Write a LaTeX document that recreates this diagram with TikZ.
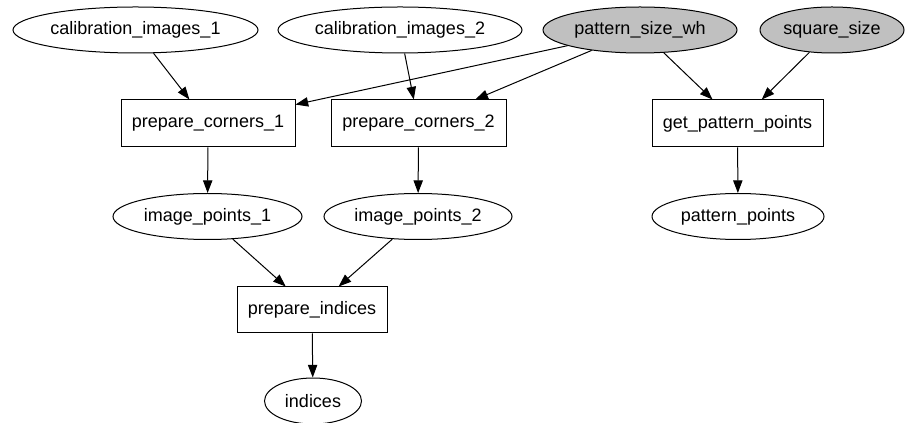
\documentclass[tikz,border=0pt]{standalone}
\usepackage{fontspec}
\setmainfont{Liberation Sans}
\usetikzlibrary{shapes.geometric,arrows.meta}
\definecolor{inputgray}{RGB}{192,192,192}

\begin{document}
\begin{tikzpicture}[x=0.75pt,y=-0.75pt]

		\tikzstyle{data}=[draw, ellipse, inner sep=0pt, minimum height=34.5pt, line width=0.75pt, font=\fontsize{13.5}{16}\selectfont]
		\tikzstyle{given data}=[data, fill=inputgray]
		\tikzstyle{task}=[draw, rectangle, inner sep=0pt, minimum height=35.25pt, line width=0.75pt, font=\fontsize{13.5}{16}\selectfont]
		\tikzstyle{flow}=[-{Triangle[length=9.5pt,width=7pt]}, line width=0.75pt]

		\useasboundingbox (0,0) rectangle (905,423);

		%inputs
		\node [data, minimum width=183.75pt] (calib1) at (135.5,30) {calibration\_images\_1};
		\node [data, minimum width=183pt] (calib2) at (400,30) {calibration\_images\_2};
		\node [given data, minimum width=145.5pt] (patsize) at (640,30) {pattern\_size\_wh};
		\node [given data, minimum width=108pt] (sqsize) at (832,30) {square\_size};

		%steps
		\node [task, minimum width=130.5pt] (corners1) at (208,123.5) {prepare\_corners\_1};
		\node [task, minimum width=131.25pt] (corners2) at (418.5,123.5) {prepare\_corners\_2};
		\node [task, minimum width=128.25pt] (getpat) at (737.5,123.5) {get\_pattern\_points};

		%results of the steps
		\node [data, minimum width=141.75pt] (imgpts1) at (207.5,216.5) {image\_points\_1};
		\node [data, minimum width=141pt] (imgpts2) at (418,216.5) {image\_points\_2};
		\node [data, minimum width=129pt] (patpts) at (738,216.5) {pattern\_points};

		%last step
		\node [task, minimum width=112.5pt, minimum height=34.5pt] (prepidx) at (312,310) {prepare\_indices};
		\node [data, minimum width=72.75pt] (indices) at (313,401) {indices};

		%edges
		\draw [flow] (calib1) -- (corners1);
		\draw [flow] (calib2) -- (corners2);
		\draw [flow] (patsize) -- (corners1);
		\draw [flow] (patsize) -- (corners2);
		\draw [flow] (patsize) -- (getpat);
		\draw [flow] (sqsize) -- (getpat);
		\draw [flow] (corners1) -- (imgpts1);
		\draw [flow] (corners2) -- (imgpts2);
		\draw [flow] (getpat) -- (patpts);
		\draw [flow] (imgpts1) -- (prepidx);
		\draw [flow] (imgpts2) -- (prepidx);
		\draw [flow] (prepidx) -- (indices);

\end{tikzpicture}
\end{document}
